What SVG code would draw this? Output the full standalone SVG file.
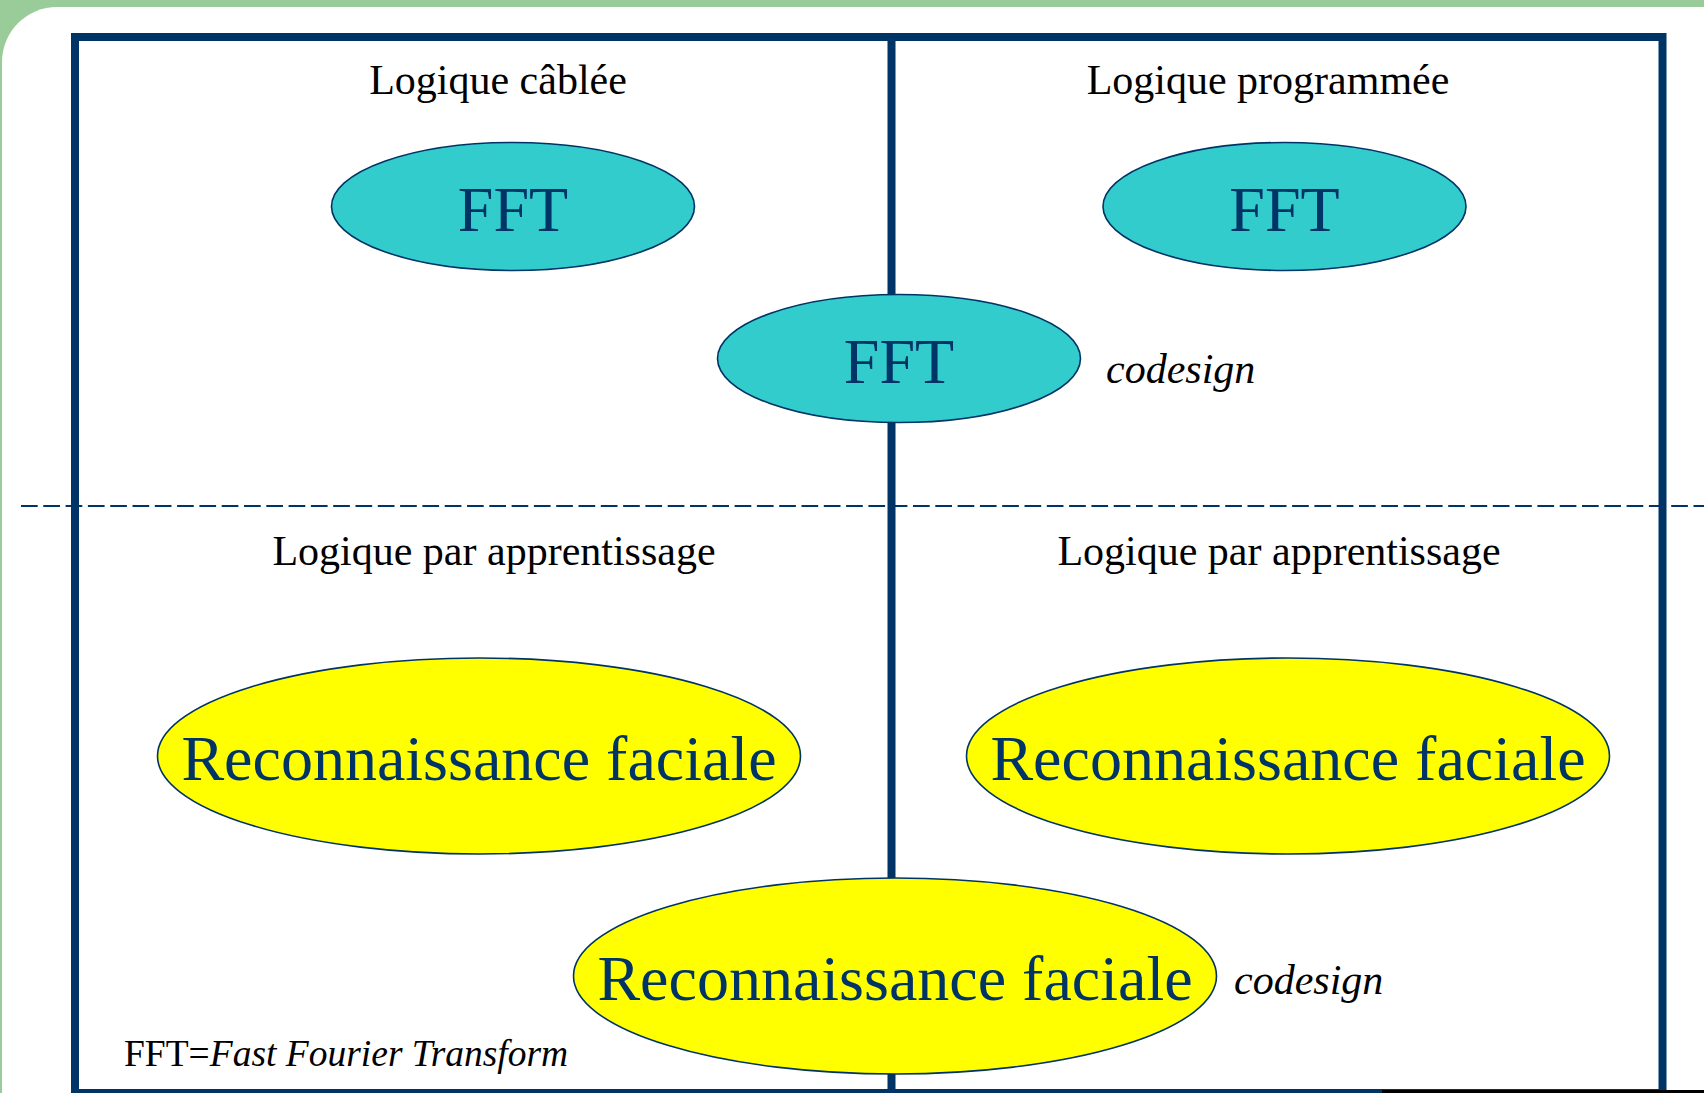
<svg xmlns="http://www.w3.org/2000/svg" width="1704" height="1093" viewBox="0 0 1704 1093">
<style>
.t{font-family:"Liberation Serif","Times New Roman",serif;fill:#000}
.lbl{font-size:42px;text-anchor:middle}
.cod{font-size:42px;font-style:italic}
.big{font-family:"Liberation Serif","Times New Roman",serif;font-size:64px;fill:#003366;text-anchor:middle}
.cyan{fill:#33cccc;stroke:#003366;stroke-width:1.6}
.yel{fill:#ffff00;stroke:#003366;stroke-width:1.6}
.frame{fill:none;stroke:#003366;stroke-width:8}
</style>
<rect x="0" y="0" width="1704" height="1093" fill="#99cc99"/>
<path d="M2,1093 V62 A55,55 0 0 1 57,7 H1704 V1093 Z" fill="#ffffff"/>
<g id="connectors">
<rect class="frame" x="75" y="37" width="1587.5" height="1056"/>
<line x1="891.5" y1="37" x2="891.5" y2="1093" stroke="#003366" stroke-width="8"/>
<line x1="21" y1="506" x2="1704" y2="506" stroke="#003366" stroke-width="2" stroke-dasharray="16.7 5.6"/>
<line x1="1382" y1="1091.5" x2="1704" y2="1091.5" stroke="#000" stroke-width="3"/>
</g>
<g id="labels">
<text class="t lbl" x="498" y="94">Logique câblée</text>
<text class="t lbl" x="1268" y="94">Logique programmée</text>
<text class="t lbl" x="494" y="565">Logique par apprentissage</text>
<text class="t lbl" x="1279" y="565">Logique par apprentissage</text>
<text class="t cod" x="1106" y="383">codesign</text>
<text class="t cod" x="1234" y="994">codesign</text>
<text class="t" x="124" y="1066" font-size="37.5">FFT=<tspan font-style="italic">Fast Fourier Transform</tspan></text>
</g>
<g id="fft-cablee">
<ellipse class="cyan" cx="513" cy="206.5" rx="181.5" ry="64"/>
<text class="big" x="513" y="231">FFT</text>
</g>
<g id="fft-programmee">
<ellipse class="cyan" cx="1284.5" cy="206.5" rx="181.5" ry="64"/>
<text class="big" x="1284.5" y="231">FFT</text>
</g>
<g id="fft-codesign">
<ellipse class="cyan" cx="899" cy="358.5" rx="181.5" ry="64"/>
<text class="big" x="899" y="383">FFT</text>
</g>
<g id="rf-cablee">
<ellipse class="yel" cx="479" cy="756" rx="321.5" ry="98"/>
<text class="big" x="479" y="780">Reconnaissance faciale</text>
</g>
<g id="rf-programmee">
<ellipse class="yel" cx="1288" cy="756" rx="321.5" ry="98"/>
<text class="big" x="1288" y="780">Reconnaissance faciale</text>
</g>
<g id="rf-codesign">
<ellipse class="yel" cx="895" cy="976" rx="321.5" ry="98"/>
<text class="big" x="895" y="1000">Reconnaissance faciale</text>
</g>
</svg>
